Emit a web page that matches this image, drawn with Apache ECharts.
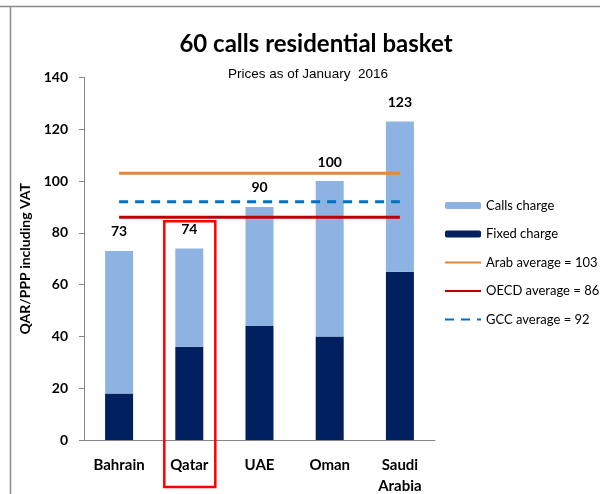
<!DOCTYPE html>
<html>
<head>
<meta charset="utf-8">
<script src="https://cdn.jsdelivr.net/npm/echarts@6/dist/echarts.min.js"></script>
<style>
  html, body { margin: 0; padding: 0; background: #fff; }
  #chart { width: 600px; height: 494px; }
</style>
</head>
<body>
<div id="chart"></div>
<script>
// 数据
const countries = ['Bahrain', 'Qatar', 'UAE', 'Oman', 'Saudi\nArabia']
const fixedCharge = [18, 36, 44, 40, 65]
const callsCharge = [55, 38, 46, 60, 58]
const arabAvg = [103, 103, 103, 103, 103]
const oecdAvg = [86, 86, 86, 86, 86]
const gccAvg = [92, 92, 92, 92, 92]
const yTicks = [0, 20, 40, 60, 80, 100, 120, 140]

const font = 'Lato, "Open Sans", sans-serif'
let myChart = echarts.init(document.getElementById('chart'))

// 折线图例只要线，不要圆点
const lineLegend = name => ({ name: name, itemStyle: { opacity: 0 } })

myChart.setOption({
  animation: false,
  title: [
    {
      text: '60 calls residential basket',
      left: 311,
      top: 27,
      textAlign: 'center',
      textStyle: { fontFamily: font, fontSize: 24, fontWeight: 'bold', color: '#000' }
    },
    {
      text: 'Prices as of January  2016',
      left: 303,
      top: 62,
      textAlign: 'center',
      textStyle: { fontFamily: '"Liberation Sans", Arial, sans-serif', fontSize: 13.5, fontWeight: 'normal', color: '#000' }
    }
  ],
  legend: {
    orient: 'vertical',
    left: 439,
    top: 194,
    itemWidth: 36,
    itemHeight: 7,
    itemGap: 15.5,
    data: [
      'Calls charge',
      'Fixed charge',
      lineLegend('Arab average = 103'),
      lineLegend('OECD average = 86'),
      lineLegend('GCC average = 92')
    ],
    textStyle: { fontFamily: font, fontSize: 13, color: '#000' }
  },
  grid: {
    left: 84,
    right: 165,
    top: 77.5,
    bottom: 54,
    outerBoundsMode: 'none'
  },
  xAxis: {
    type: 'category',
    data: countries,
    axisLine: { lineStyle: { color: '#868686' } },
    axisTick: { show: false },
    axisLabel: {
      margin: 15,
      interval: 0,
      lineHeight: 21,
      fontFamily: font,
      fontSize: 15,
      fontWeight: 'bold',
      color: '#000'
    }
  },
  yAxis: {
    type: 'value',
    min: yTicks[0],
    max: yTicks[yTicks.length - 1],
    interval: 20,
    name: 'QAR/PPP including VAT',
    nameLocation: 'middle',
    nameGap: 42,
    nameTextStyle: { fontFamily: font, fontSize: 14, fontWeight: 'bold', color: '#000' },
    axisLine: { show: true, lineStyle: { color: '#868686' } },
    axisTick: { show: true, length: 5, lineStyle: { color: '#868686' } },
    splitLine: { show: false },
    axisLabel: { margin: 16, fontFamily: font, fontSize: 14, fontWeight: 'bold', color: '#000' }
  },
  series: [
    {
      name: 'Fixed charge',
      type: 'bar',
      stack: 'total',
      barWidth: 28,
      data: fixedCharge,
      itemStyle: { color: '#002060' }
    },
    {
      name: 'Calls charge',
      type: 'bar',
      stack: 'total',
      barWidth: 28,
      data: callsCharge,
      itemStyle: { color: '#8DB3E2' },
      label: {
        show: true,
        position: 'top',
        distance: 12,
        fontFamily: font,
        fontSize: 14,
        fontWeight: 'bold',
        color: '#000',
        // 总计 = 固定 + 通话
        formatter: p => fixedCharge[p.dataIndex] + callsCharge[p.dataIndex]
      }
    },
    {
      name: 'Arab average = 103',
      type: 'line',
      data: arabAvg,
      symbol: 'none',
      z: 5,
      lineStyle: { color: '#E3873B', width: 3 },
      itemStyle: { color: '#E3873B' }
    },
    {
      name: 'OECD average = 86',
      type: 'line',
      data: oecdAvg,
      symbol: 'none',
      z: 5,
      lineStyle: { color: '#C00000', width: 3 },
      itemStyle: { color: '#C00000' }
    },
    {
      name: 'GCC average = 92',
      type: 'line',
      data: gccAvg,
      symbol: 'none',
      z: 5,
      lineStyle: { color: '#0070C0', width: 3, type: [9, 7] },
      itemStyle: { color: '#0070C0' }
    }
  ]
})

// 红框标出 Qatar 以及外框线
let qx = myChart.convertToPixel({ xAxisIndex: 0 }, 'Qatar')
let qTop = myChart.convertToPixel({ yAxisIndex: 0 }, 84.5)
myChart.setOption({
  graphic: [
    {
      type: 'rect',
      shape: { x: qx - 25, y: qTop, width: 51, height: 487 - qTop },
      style: { fill: 'none', stroke: '#FF0000', lineWidth: 2.5 },
      z: 10
    },
    {
      type: 'line',
      shape: { x1: 0, y1: 6.5, x2: 600, y2: 6.5 },
      style: { stroke: '#8a8a8a', lineWidth: 1.5 }
    },
    {
      type: 'line',
      shape: { x1: 10.5, y1: 6.5, x2: 10.5, y2: 494 },
      style: { stroke: '#8a8a8a', lineWidth: 1.5 }
    }
  ]
})
</script>
</body>
</html>
